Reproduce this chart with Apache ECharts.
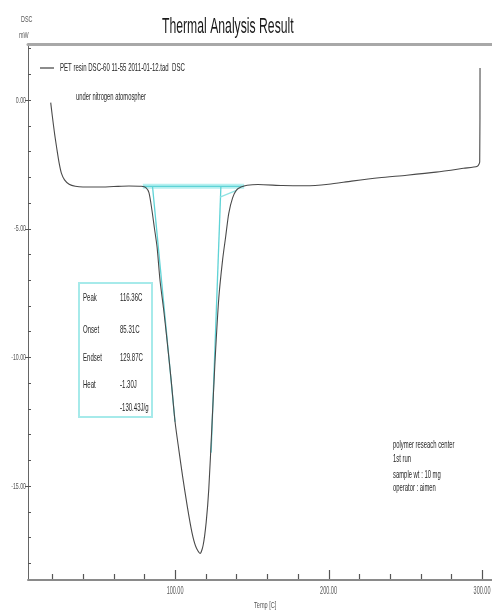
<!DOCTYPE html>
<html>
<head>
<meta charset="utf-8">
<script src="https://cdn.jsdelivr.net/npm/echarts@6/dist/echarts.min.js"></script>
<style>
  html, body { margin: 0; padding: 0; background: #fff; }
  #chart { width: 492px; height: 613px; }
</style>
</head>
<body>
<div id="chart"></div>
<script>
// DSC trace of the PET resin run (temperature in C, heat flow in mW)
const temps = [19, 20, 21.5, 23, 24.5, 26, 28, 31, 35, 40, 50, 60, 70, 78, 81, 83, 85, 86.5, 88.3, 90.2, 92.5, 94.8, 97.5, 100, 102.5, 105, 108, 111, 113.5, 116.3, 118.3, 120.3, 122, 124, 126, 128.5, 131, 133, 135, 137.5, 140, 143, 147, 154, 170, 185, 200, 215, 233, 251, 270, 288, 297, 298.5, 298.7];
const dscValues = [-0.1, -0.6, -1.3, -1.9, -2.45, -2.85, -3.1, -3.27, -3.35, -3.38, -3.38, -3.36, -3.34, -3.35, -3.4, -3.6, -4.3, -4.95, -5.72, -7.0, -8.1, -9.34, -10.9, -12.5, -13.6, -14.65, -15.8, -16.8, -17.35, -17.62, -17.3, -16.4, -15.1, -12.7, -10.2, -7.7, -6.2, -5.3, -4.4, -3.8, -3.5, -3.38, -3.31, -3.28, -3.32, -3.33, -3.27, -3.15, -3.02, -2.92, -2.8, -2.65, -2.57, -2.4, 1.25];

// Integration baseline and onset / endset tangents
const baseT = [79, 145];
const baseDsc = [-3.35, -3.35];
const onsetT = [85.31, 100];
const onsetDsc = [-3.35, -12.5];
const endsetT = [129.87, 123.5];
const endsetDsc = [-3.35, -13.7];
const endsetLinkT = [129.3, 140.4];
const endsetLinkDsc = [-3.77, -3.5];

// Axis ticks and labels
const xMinorTicks = [20, 40, 60, 80, 120, 140, 160, 180, 220, 240, 260, 280];
const xMajorTicks = [100, 200, 300];
const yMinorTicks = [2, 1, 0, -1, -2, -3, -4, -5, -6, -7, -8, -9, -10, -11, -12, -13, -14, -15, -16, -17, -18];
const yMajorTicks = [0, -5, -10, -15];

// Peak analysis results and run notes
const peakRows = [['Peak', '116.36C'], ['Onset', '85.31C'], ['Endset', '129.87C'], ['Heat', '-1.30J'], ['', '-130.43J/g']];
const runNotes = ['polymer reseach center', '1st run', 'sample wt : 10 mg', 'operator : aimen'];
const seriesName = 'PET resin DSC-60 11-55 2011-01-12.tad  DSC';

const SANS = "'Liberation Sans', Arial, sans-serif";
const TEXT_COLOR = '#262626';
const AXIS_TEXT = '#555';
const CYAN = '#5fd3d6';

const X_MIN = 4.2, X_MAX = 306.5, Y_MIN = -18.65, Y_MAX = 2.18;

const pairs = (xs, ys) => xs.map((x, i) => [x, ys[i]]);

// Condensed text element (the instrument software prints narrow type)
function label(text, x, y, size, opts) {
  opts = opts || {};
  return {
    type: 'text',
    x: x, y: y,
    scaleX: opts.scaleX || 0.55,
    originX: 0, originY: 0,
    z: 100,
    style: {
      text: text,
      font: 'normal ' + size + 'px ' + SANS,
      fill: opts.color || TEXT_COLOR,
      textVerticalAlign: 'middle',
      textAlign: opts.align || 'left'
    }
  };
}

const chart = echarts.init(document.getElementById('chart'), null, { renderer: 'canvas' });

const graphics = [];
graphics.push(label('Thermal Analysis Result', 162, 27, 22, { scaleX: 0.555, color: '#1a1a1a' }));
graphics.push(label('DSC', 21, 20, 9, { scaleX: 0.6, color: AXIS_TEXT }));
graphics.push(label('mW', 19, 36, 9, { scaleX: 0.6, color: AXIS_TEXT }));
graphics.push(label('Temp [C]', 254, 606, 9, { scaleX: 0.62, color: AXIS_TEXT }));
// legend line sample and name
graphics.push({ type: 'line', shape: { x1: 40, y1: 68, x2: 54, y2: 68 }, style: { stroke: '#666', lineWidth: 1.5 }, z: 100 });
graphics.push(label(seriesName, 60, 68, 11, { scaleX: 0.55 }));
graphics.push(label('under nitrogen atomospher', 76, 97, 11, { scaleX: 0.53 }));
// peak result box
graphics.push({ type: 'rect', shape: { x: 79, y: 283, width: 73, height: 134 }, style: { fill: 'none', stroke: '#a6eaea', lineWidth: 2 }, z: 90 });
const rowY = [298, 330, 358, 385, 408];
peakRows.forEach((r, i) => {
  if (r[0]) graphics.push(label(r[0], 83, rowY[i], 11, { scaleX: 0.55 }));
  graphics.push(label(r[1], 120, rowY[i], 11, { scaleX: 0.55 }));
});
const noteY = [445, 459, 475, 488];
runNotes.forEach((t, i) => graphics.push(label(t, 393, noteY[i], 11, { scaleX: 0.535 })));

const xBase = {
  type: 'value', min: X_MIN, max: X_MAX, gridIndex: 0,
  splitLine: { show: false }, axisLabel: { show: false }
};
const yBase = {
  type: 'value', min: Y_MIN, max: Y_MAX, gridIndex: 0,
  splitLine: { show: false }, axisLabel: { show: false }
};

const option = {
  animation: false,
  backgroundColor: '#fff',
  grid: { left: 28, right: 0, top: 44, bottom: 33, outerBoundsMode: 'none', containLabel: false },
  xAxis: [
    Object.assign({}, xBase, {
      position: 'bottom',
      axisLine: { show: true, onZero: false, lineStyle: { color: '#8a8a8a', width: 2 } },
      axisTick: { show: false }
    }),
    Object.assign({}, xBase, {
      position: 'top',
      axisLine: { show: true, onZero: false, lineStyle: { color: '#a8a8a8', width: 3 } },
      axisTick: { show: false }
    })
  ],
  yAxis: [
    Object.assign({}, yBase, {
      position: 'left',
      axisLine: { show: true, onZero: false, lineStyle: { color: '#666', width: 1 } },
      axisTick: { show: true, inside: true, length: 3, customValues: yMinorTicks, lineStyle: { color: '#555' } }
    }),
    Object.assign({}, yBase, {
      position: 'left',
      axisLine: { show: false, onZero: false },
      axisTick: { show: true, inside: false, length: 3, customValues: yMajorTicks, lineStyle: { color: '#555' } }
    })
  ],
  graphic: graphics,
  series: [
    {
      name: 'baseline', type: 'line', data: pairs(baseT, baseDsc), symbol: 'none',
      lineStyle: { color: '#a4ecec', width: 5, opacity: 0.8 }, z: 2, silent: true
    },
    {
      name: 'baseline core', type: 'line', data: pairs(baseT, baseDsc), symbol: 'none',
      lineStyle: { color: CYAN, width: 1.2 }, z: 3, silent: true
    },
    {
      name: 'onset tangent', type: 'line', data: pairs(onsetT, onsetDsc), symbol: 'none',
      lineStyle: { color: CYAN, width: 1.3 }, z: 3, silent: true
    },
    {
      name: 'endset tangent', type: 'line', data: pairs(endsetT, endsetDsc), symbol: 'none',
      lineStyle: { color: CYAN, width: 1.3 }, z: 3, silent: true
    },
    {
      name: 'endset link', type: 'line', data: pairs(endsetLinkT, endsetLinkDsc), symbol: 'none',
      lineStyle: { color: '#8fe3e3', width: 1.2 }, z: 3, silent: true
    },
    {
      name: seriesName, type: 'line', data: pairs(temps, dscValues), symbol: 'none',
      smooth: 0.25,
      lineStyle: { color: '#4a4a4a', width: 1.1 }, z: 5
    }
  ]
};

chart.setOption(option);

// Temperature ticks and all tick labels, placed through the axes' own scales
const axisY = Math.round(chart.convertToPixel({ yAxisIndex: 0 }, Y_MIN));
const extras = [];
const tick = (v, len) => {
  const px = Math.round(chart.convertToPixel({ xAxisIndex: 0 }, v)) + 0.5;
  return { type: 'line', shape: { x1: px, y1: axisY - 1, x2: px, y2: axisY - 1 - len }, style: { stroke: '#555', lineWidth: 1.2 }, z: 120 };
};
xMinorTicks.forEach(v => extras.push(tick(v, 5)));
xMajorTicks.forEach(v => {
  extras.push(tick(v, 9));
  extras.push(label(v.toFixed(2), chart.convertToPixel({ xAxisIndex: 0 }, v), 591, 10, { scaleX: 0.55, align: 'center', color: AXIS_TEXT }));
});
yMajorTicks.forEach(v => {
  const py = chart.convertToPixel({ yAxisIndex: 0 }, v);
  extras.push(label(v.toFixed(2), 26, py, 9.5, { scaleX: 0.55, align: 'right', color: AXIS_TEXT }));
});
chart.setOption({ graphic: graphics.concat(extras) });
</script>
</body>
</html>
